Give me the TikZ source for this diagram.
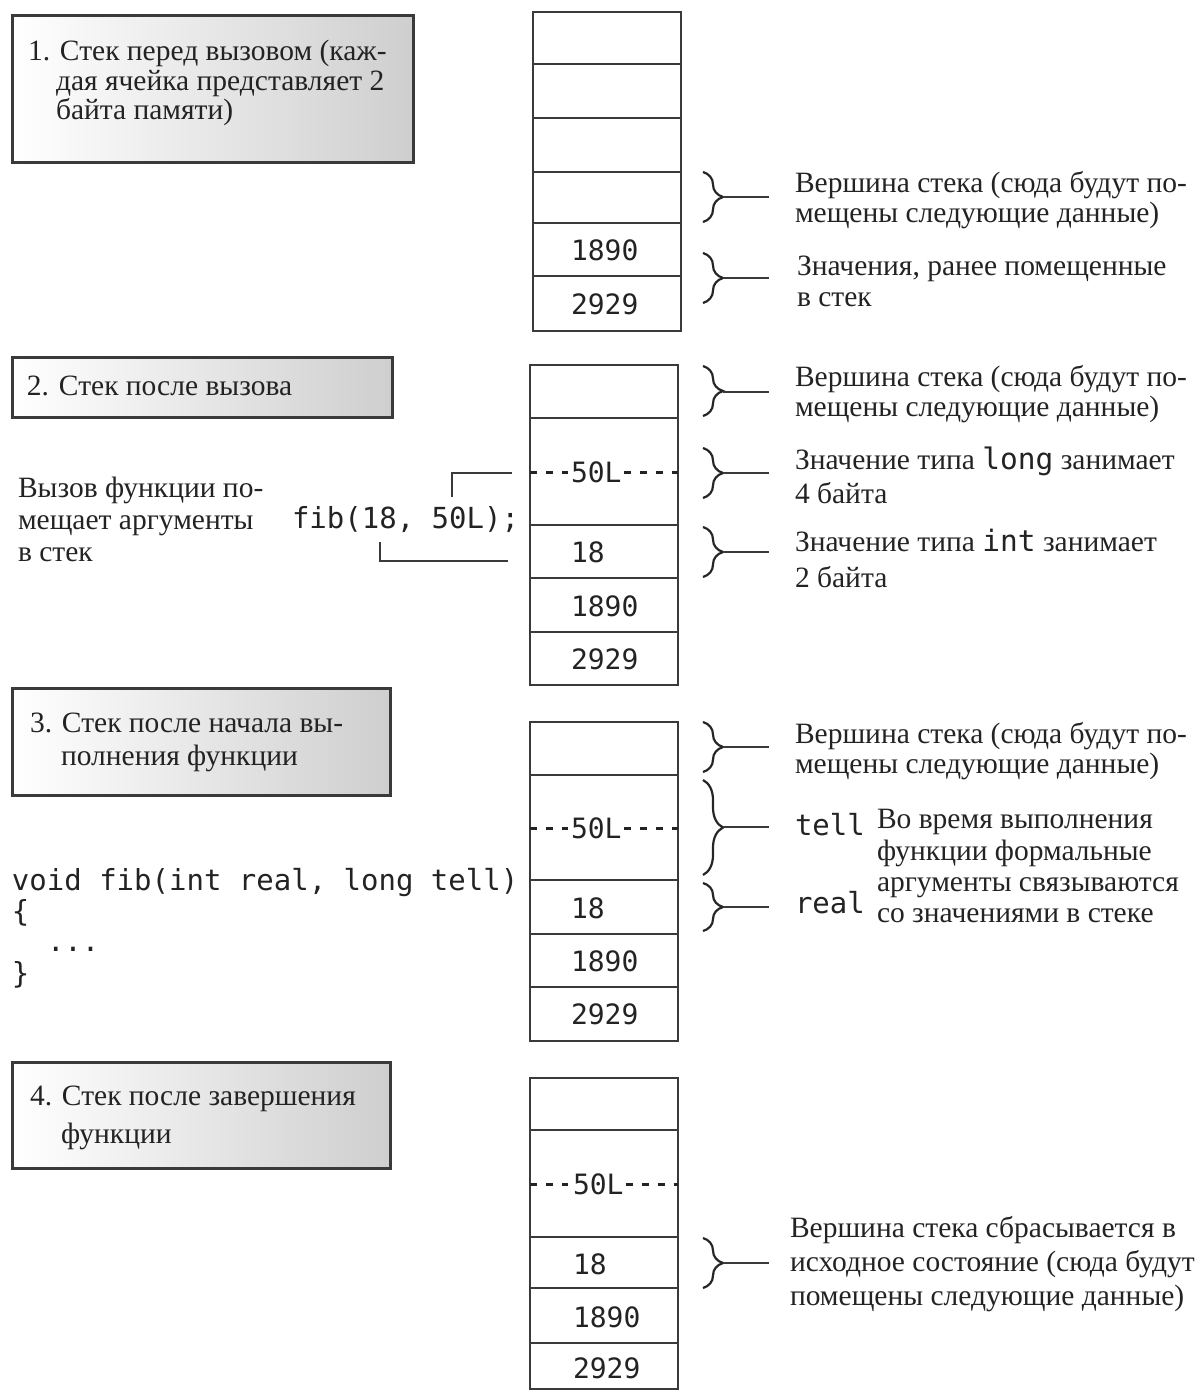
\documentclass[tikz,border=0pt]{standalone}
\usepackage{fontspec}
\setmainfont{Liberation Serif}
\newfontfamily\codefont{DejaVu Sans Mono}
\usetikzlibrary{decorations.pathreplacing}

\definecolor{ink}{HTML}{232323}
\definecolor{rule}{HTML}{3A3A3A}

\begin{document}
\begin{tikzpicture}[x=1pt,y=-1pt,
  every node/.style={inner sep=0pt, outer sep=0pt, text=ink},
  title/.style={draw=rule, line width=3pt, left color=white, right color=black!19, anchor=north west},
  cell/.style={draw=rule, line width=2.6pt, minimum width=148pt, anchor=north west},
  txt/.style={anchor=base west, font=\fontsize{29.5}{31}\selectfont},
  code/.style={anchor=base west, font=\codefont\fontsize{29}{31}\selectfont},
  num/.style={anchor=west, font=\codefont\fontsize{28}{31}\selectfont},
  br/.style={draw=black!85, line width=2.2pt, decorate, decoration={brace, amplitude=20pt}},
  lead/.style={draw=rule, line width=2pt},
  dashline/.style={draw=ink, line width=3pt, dash pattern=on 7pt off 9pt},
  link/.style={draw=rule, line width=2pt}
]
\useasboundingbox (0,0) rectangle (1202,1392);

% ---------- 1. stack before the call ----------
\node[title, minimum width=401pt, minimum height=147pt] (t1) at (12,15) {};
\node[txt] (t1a) at (28,60) {1. Стек перед вызовом (каж-};
\node[txt] (t1b) at (56,90) {дая ячейка представляет 2};
\node[txt] (t1c) at (56,119) {байта памяти)};

\node[cell, minimum height=52pt] (a1) at (533,12) {};
\node[cell, minimum height=54pt] (a2) at (533,64) {};
\node[cell, minimum height=54pt] (a3) at (533,118) {};
\node[cell, minimum height=51pt] (a4) at (533,172) {};
\node[cell, minimum height=53pt] (a5) at (533,223) {};
\node[cell, minimum height=55pt] (a6) at (533,276) {};
\node[num] (a5n) at (571,250) {1890};
\node[num] (a6n) at (571,304) {2929};

\coordinate (ba1t) at (703,172); \coordinate (ba1b) at (703,222);
\coordinate (ba1e) at (769,197);
\draw[br] (ba1t) -- (ba1b);
\draw[lead] (723,197) -- (ba1e);
\node[txt] (ra1a) at (795,192) {Вершина стека (сюда будут по-};
\node[txt] (ra1b) at (795,222) {мещены следующие данные)};

\coordinate (ba2t) at (703,253); \coordinate (ba2b) at (703,303);
\coordinate (ba2e) at (769,278);
\draw[br] (ba2t) -- (ba2b);
\draw[lead] (723,278) -- (ba2e);
\node[txt] (ra2a) at (797,275) {Значения, ранее помещенные};
\node[txt] (ra2b) at (797,306) {в стек};

% ---------- 2. stack after the call ----------
\node[title, minimum width=380pt, minimum height=60pt] (t2) at (12,357) {};
\node[txt] (t2a) at (27,395) {2. Стек после вызова};

\node[txt] (l2a) at (18,497) {Вызов функции по-};
\node[txt] (l2b) at (18,529) {мещает аргументы};
\node[txt] (l2c) at (18,561) {в стек};
\node[code] (call) at (292,528) {fib(18, 50L);};

\node[cell, minimum height=53pt] (b1) at (530,365) {};
\node[cell, minimum height=107pt] (b2) at (530,418) {};
\node[cell, minimum height=53pt] (b3) at (530,525) {};
\node[cell, minimum height=54pt] (b4) at (530,578) {};
\node[cell, minimum height=53pt] (b5) at (530,632) {};
\node[num] (b2n) at (571,472) {50L};
\node[num] (b3n) at (571,552) {18};
\node[num] (b4n) at (571,606) {1890};
\node[num] (b5n) at (571,659) {2929};
\draw[dashline, shorten >=3pt] (b2.west |- b2n.west) -- (b2n.west);
\draw[dashline, shorten <=2pt] (b2n.east) -- (b2n.east -| b2.east);

\coordinate (c50) at (452,497); \coordinate (e50) at (512,473);
\coordinate (c18) at (380,542); \coordinate (e18) at (508,561);
\draw[link] (c50) |- (e50);
\draw[link] (c18) |- (e18);

\coordinate (bb1t) at (703,366); \coordinate (bb1b) at (703,416);
\coordinate (bb1e) at (769,392);
\draw[br] (bb1t) -- (bb1b);
\draw[lead] (723,392) -- (bb1e);
\node[txt] (rb1a) at (795,386) {Вершина стека (сюда будут по-};
\node[txt] (rb1b) at (795,416) {мещены следующие данные)};

\coordinate (bb2t) at (703,448); \coordinate (bb2b) at (703,498);
\coordinate (bb2e) at (769,473);
\draw[br] (bb2t) -- (bb2b);
\draw[lead] (723,473) -- (bb2e);
\node[txt] (rb2a) at (795,469) {Значение типа {\codefont long} занимает};
\node[txt] (rb2b) at (795,503) {4 байта};

\coordinate (bb3t) at (703,527); \coordinate (bb3b) at (703,577);
\coordinate (bb3e) at (769,552);
\draw[br] (bb3t) -- (bb3b);
\draw[lead] (723,552) -- (bb3e);
\node[txt] (rb3a) at (795,551) {Значение типа {\codefont int} занимает};
\node[txt] (rb3b) at (795,587) {2 байта};

% ---------- 3. stack while the function runs ----------
\node[title, minimum width=378pt, minimum height=107pt] (t3) at (12,688) {};
\node[txt] (t3a) at (30,732) {3. Стек после начала вы-};
\node[txt] (t3b) at (61,765) {полнения функции};

\node[code] (v1) at (12,890) {void fib(int real, long tell)};
\node[code] (v2) at (12,921) {\{};
\node[code] (v3) at (47,951) {...};
\node[code] (v4) at (12,983) {\}};

\node[cell, minimum height=53pt] (c1) at (530,722) {};
\node[cell, minimum height=105pt] (c2) at (530,775) {};
\node[cell, minimum height=54pt] (c3) at (530,880) {};
\node[cell, minimum height=53pt] (c4) at (530,934) {};
\node[cell, minimum height=54pt] (c5) at (530,987) {};
\node[num] (c2n) at (571,828) {50L};
\node[num] (c3n) at (571,908) {18};
\node[num] (c4n) at (571,961) {1890};
\node[num] (c5n) at (571,1014) {2929};
\draw[dashline, shorten >=3pt] (c2.west |- c2n.west) -- (c2n.west);
\draw[dashline, shorten <=2pt] (c2n.east) -- (c2n.east -| c2.east);

\coordinate (bc1t) at (703,722); \coordinate (bc1b) at (703,772);
\coordinate (bc1e) at (769,747);
\draw[br] (bc1t) -- (bc1b);
\draw[lead] (723,747) -- (bc1e);
\node[txt] (rc1a) at (795,743) {Вершина стека (сюда будут по-};
\node[txt] (rc1b) at (795,773) {мещены следующие данные)};

\coordinate (bc2t) at (703,780); \coordinate (bc2b) at (703,875);
\coordinate (bc2e) at (769,827);
\draw[br] (bc2t) -- (bc2b);
\draw[lead] (723,827) -- (bc2e);
\node[code] (tell) at (795,835) {tell};

\coordinate (bc3t) at (703,883); \coordinate (bc3b) at (703,931);
\coordinate (bc3e) at (769,907);
\draw[br] (bc3t) -- (bc3b);
\draw[lead] (723,907) -- (bc3e);
\node[code] (real) at (795,913) {real};

\node[txt] (rc2a) at (877,828) {Во время выполнения};
\node[txt] (rc2b) at (877,860) {функции формальные};
\node[txt] (rc2c) at (877,891) {аргументы связываются};
\node[txt] (rc2d) at (877,922) {со значениями в стеке};

% ---------- 4. stack after the function returns ----------
\node[title, minimum width=378pt, minimum height=106pt] (t4) at (12,1062) {};
\node[txt] (t4a) at (30,1105) {4. Стек после завершения};
\node[txt] (t4b) at (61,1143) {функции};

\node[cell, minimum height=52pt] (d1) at (530,1078) {};
\node[cell, minimum height=107pt] (d2) at (530,1130) {};
\node[cell, minimum height=51pt] (d3) at (530,1237) {};
\node[cell, minimum height=55pt] (d4) at (530,1288) {};
\node[cell, minimum height=46pt] (d5) at (530,1343) {};
\node[num] (d2n) at (573,1184) {50L};
\node[num] (d3n) at (573,1264) {18};
\node[num] (d4n) at (573,1317) {1890};
\node[num] (d5n) at (573,1368) {2929};
\draw[dashline, shorten >=5pt] (d2.west |- d2n.west) -- (d2n.west);
\draw[dashline, shorten <=2pt] (d2n.east) -- (d2n.east -| d2.east);

\coordinate (bd1t) at (703,1238); \coordinate (bd1b) at (703,1288);
\coordinate (bd1e) at (769,1263);
\draw[br] (bd1t) -- (bd1b);
\draw[lead] (723,1263) -- (bd1e);
\node[txt] (rd1a) at (790,1237) {Вершина стека сбрасывается в};
\node[txt] (rd1b) at (790,1271) {исходное состояние (сюда будут};
\node[txt] (rd1c) at (790,1305) {помещены следующие данные)};
\end{tikzpicture}
\end{document}
